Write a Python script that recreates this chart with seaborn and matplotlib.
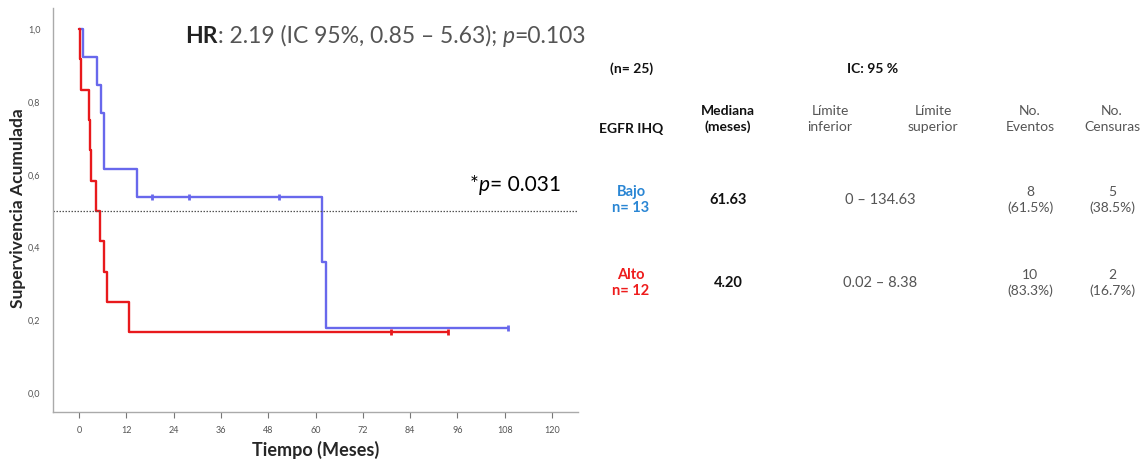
import numpy as np
import pandas as pd
import matplotlib
matplotlib.use("Agg")
import matplotlib.pyplot as plt
import seaborn as sns

# Follow-up times (months) and event flags (1 = event, 0 = censored) per EGFR IHQ group
bajo_tiempos = [1.1, 4.5, 5.7, 6.4, 6.4, 14.6, 18.6, 27.8, 50.7, 50.7, 61.6, 62.6, 108.8]
bajo_eventos = [1, 1, 1, 1, 1, 1, 0, 0, 0, 0, 1, 1, 0]
alto_tiempos = [0.2, 0.5, 2.5, 2.9, 3.0, 4.2, 5.3, 6.4, 7.0, 12.8, 79.2, 93.5]
alto_eventos = [1, 1, 1, 1, 1, 1, 1, 1, 1, 1, 0, 0]

grupos = ["Bajo", "Alto"]
colores = {"Bajo": "#6868ec", "Alto": "#e8191c"}

x_ticks = [0, 12, 24, 36, 48, 60, 72, 84, 96, 108, 120]
y_ticks = [0.0, 0.2, 0.4, 0.6, 0.8, 1.0]
y_ticklabels = ["0,0", "0,2", "0,4", "0,6", "0,8", "1,0"]

# Summary table
tabla_cols = ["EGFR IHQ", "Mediana\n(meses)", "Límite\ninferior", "Límite\nsuperior",
              "No.\nEventos", "No.\nCensuras"]
tabla_grupos = ["Bajo\nn= 13", "Alto\nn= 12"]
tabla_medianas = ["61.63", "4.20"]
tabla_ic = ["0 – 134.63", "0.02 – 8.38"]
tabla_eventos = ["8\n(61.5%)", "10\n(83.3%)"]
tabla_censuras = ["5\n(38.5%)", "2\n(16.7%)"]


def kaplan_meier(tiempos, eventos):
    t = np.asarray(tiempos, float)
    e = np.asarray(eventos, int)
    orden = np.argsort(t, kind="stable")
    t, e = t[orden], e[orden]
    xs, ys = [0.0], [1.0]
    cens_x, cens_y = [], []
    s = 1.0
    for tt in np.unique(t):
        en_riesgo = np.sum(t >= tt)
        d = np.sum((t == tt) & (e == 1))
        c = np.sum((t == tt) & (e == 0))
        if d > 0:
            xs.append(tt); ys.append(s)
            s = s * (1 - d / en_riesgo)
            xs.append(tt); ys.append(s)
        if c > 0:
            cens_x.append(tt); cens_y.append(s)
    xs.append(t.max()); ys.append(s)
    return xs, ys, cens_x, cens_y


sns.set_style("white")
plt.rcParams["font.family"] = ["Lato", "DejaVu Sans"]

W, H = 1144, 461
AX_L, AX_R, AX_T, AX_B = 53, 578, 8, 412
fig = plt.figure(figsize=(W / 100, H / 100), dpi=100)
ax = fig.add_axes([AX_L / W, 1 - AX_B / H, (AX_R - AX_L) / W, (AX_B - AX_T) / H])

curvas = []
censuras = []
for g, tt, ee in [("Bajo", bajo_tiempos, bajo_eventos), ("Alto", alto_tiempos, alto_eventos)]:
    xs, ys, cx, cy = kaplan_meier(tt, ee)
    curvas.append(pd.DataFrame({"t": xs, "s": ys, "grupo": g}))
    censuras.append(pd.DataFrame({"t": cx, "s": cy, "grupo": g}))
curvas = pd.concat(curvas, ignore_index=True)
censuras = pd.concat(censuras, ignore_index=True)

sns.lineplot(data=curvas, x="t", y="s", hue="grupo", hue_order=grupos, palette=colores,
             estimator=None, sort=False, units="grupo", legend=False, ax=ax,
             linewidth=1.7)
for g in grupos:
    sub = censuras[censuras["grupo"] == g]
    ax.plot(sub["t"], sub["s"], linestyle="none", marker="|", markersize=5,
            markeredgewidth=2.0, color=colores[g])

ax.axhline(0.5, color="#555555", linestyle=(0, (1.2, 1.2)), linewidth=0.9)

ax.set_xlim(-6.6, 126.6)
ax.set_ylim(-0.052, 1.058)
ax.set_xticks(x_ticks)
ax.set_xticklabels([str(v) for v in x_ticks])
ax.set_yticks(y_ticks)
ax.set_yticklabels(y_ticklabels)
ax.tick_params(axis="x", length=4, width=0.8, color="#777777", labelsize=6.5,
               labelcolor="#555555", pad=6, direction="out", bottom=True)
ax.tick_params(axis="y", length=0, labelsize=6.5, labelcolor="#555555", pad=9)
sns.despine(ax=ax)
for sp in ["left", "bottom"]:
    ax.spines[sp].set_color("#aaaaaa")
    ax.spines[sp].set_linewidth(1.0)

ax.set_xlabel("Tiempo (Meses)", fontsize=13, fontweight="bold", va="center")
ax.xaxis.set_label_coords(0.5, (AX_B - 450) / (AX_B - AX_T))
ax.set_ylabel("Supervivencia Acumulada", fontsize=12.5, fontweight="bold", va="center")
ax.yaxis.set_label_coords((18 - AX_L) / (AX_R - AX_L), (AX_B - 208) / (AX_B - AX_T))

renderer = fig.canvas.get_renderer()


def texto_mixto(x_px, y_px, piezas, fontsize):
    """Draw consecutive text pieces with their own styles on one baseline."""
    x = x_px / W
    for s, kw in piezas:
        t = fig.text(x, 1 - y_px / H, s, fontsize=fontsize, va="baseline", ha="left", **kw)
        bb = t.get_window_extent(renderer=renderer)
        x = bb.x1 / W


texto_mixto(185, 43, [("HR", dict(fontweight="bold", color="#222222")),
                      (": 2.19 (IC 95%, 0.85 – 5.63); ", dict(color="#555555")),
                      ("p", dict(style="italic", color="#555555")),
                      ("=0.103", dict(color="#555555"))], 16.5)
texto_mixto(470, 191, [("*", dict(color="black")),
                       ("p", dict(style="italic", color="black")),
                       ("= 0.031", dict(color="black"))], 15)


# Right-hand summary table
def ft(x, y, s, **kw):
    base = dict(ha="center", va="center", linespacing=1.35)
    base.update(kw)
    fig.text(x / W, 1 - y / H, s, **base)

ft(632, 69, "(n= 25)", fontsize=10, fontweight="bold", color="#111111")
ft(873, 69, "IC: 95 %", fontsize=10, fontweight="bold", color="#111111")

col_x = [631, 728, 830, 933, 1030, 1112]
for i, (cx, s) in enumerate(zip(col_x, tabla_cols)):
    if i == 0:
        ft(cx, 129, s, fontsize=10, fontweight="bold", color="#111111")
    elif i == 1:
        ft(cx, 119, s, fontsize=10, fontweight="bold", color="#111111")
    else:
        ft(cx, 119, s, fontsize=10, color="#555555")

fila_y = [200, 283]
color_grupo = ["#2a86d4", "#ee1c1c"]
for j in range(2):
    y = fila_y[j]
    ft(col_x[0], y, tabla_grupos[j], fontsize=10.5, fontweight="bold", color=color_grupo[j],
       linespacing=1.2)
    ft(col_x[1], y, tabla_medianas[j], fontsize=10.5, fontweight="bold", color="#111111")
    ft(880, y, tabla_ic[j], fontsize=10.5, color="#555555")
    ft(col_x[4], y, tabla_eventos[j], fontsize=10, color="#555555")
    ft(col_x[5], y, tabla_censuras[j], fontsize=10, color="#555555")

fig.savefig("out.png", dpi=100)
